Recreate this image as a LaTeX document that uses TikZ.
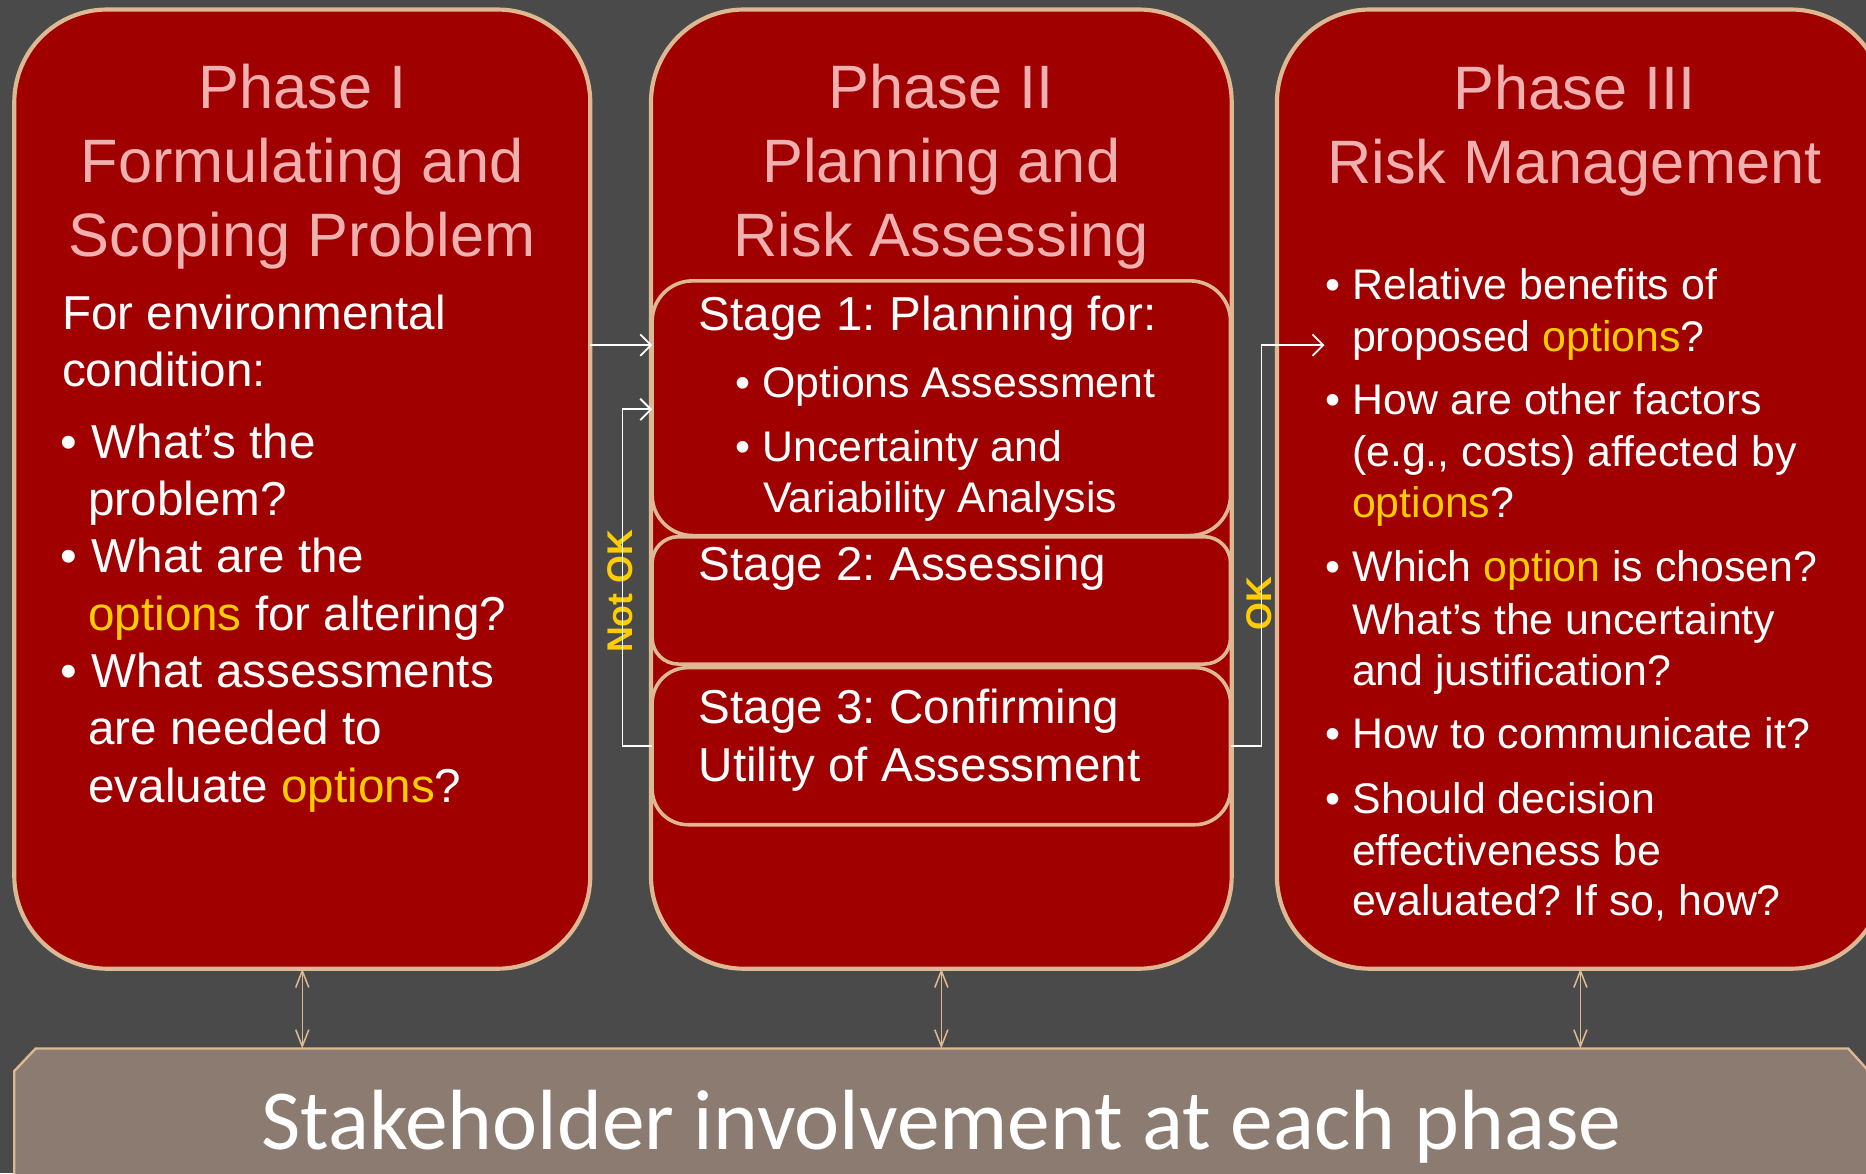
\documentclass[tikz,border=0pt]{standalone}
\usepackage{fontspec}
\setmainfont{Liberation Sans}
\newfontfamily\bandfont{Carlito}
\usetikzlibrary{arrows.meta}
\definecolor{bgc}{RGB}{74,74,74}
\definecolor{boxred}{RGB}{160,0,0}
\definecolor{tanc}{RGB}{221,184,146}
\definecolor{pinkc}{RGB}{240,176,176}
\definecolor{yel}{RGB}{255,204,0}
\definecolor{bandc}{RGB}{139,123,112}
\newcommand{\opt}[1]{\textcolor{yel}{#1}}
\newcommand{\bulA}{\makebox[26pt][l]{•}}
\newcommand{\bulB}{\makebox[22.5pt][l]{•}}
\frenchspacing
\begin{document}
\begin{tikzpicture}[x=1pt,y=-1pt,
  phase/.style={draw=tanc, line width=3.5pt, fill=boxred, rounded corners=78pt, anchor=north west, inner sep=0, outer sep=0},
  stagebox/.style={draw=tanc, line width=3pt, fill=boxred, anchor=north west, inner sep=0, outer sep=0},
  ttl/.style={text=pinkc, font=\fontsize{51.5}{62}\selectfont, anchor=base, inner sep=0},
  bodyA/.style={text=white, font=\fontsize{40}{48}\selectfont, anchor=base west, inner sep=0},
  bodyB/.style={text=white, font=\fontsize{36}{43}\selectfont, anchor=base west, inner sep=0},
  wline/.style={draw=white, line width=1.5pt},
  warrow/.style={wline, -{Straight Barb[length=9pt,width=18pt,line width=1.5pt]}},
  tanarrow/.style={draw=tanc, line width=1.3pt, {Straight Barb[length=14pt,width=11pt]}-{Straight Barb[length=14pt,width=11pt]}},
  vlabel/.style={rotate=90, text=yel, font=\bfseries\fontsize{30}{36}\selectfont, inner sep=0}
]
\useasboundingbox (0,0) rectangle (1568,986);
\clip (0,0) rectangle (1568,986);
\fill[bgc] (0,0) rectangle (1568,986);

% phase boxes
\node[phase, minimum width=484pt, minimum height=806pt] (p1) at (12,8) {};
\node[phase, minimum width=488pt, minimum height=806pt] (p2) at (547,8) {};
\node[phase, minimum width=510pt, minimum height=806pt] (p3) at (1073,8) {};

% stage boxes
\node[stagebox, rounded corners=34pt, minimum width=486pt, minimum height=214pt] (s1) at (548,236) {};
\node[stagebox, rounded corners=22pt, minimum width=486pt, minimum height=107pt] (s2) at (548,451) {};
\node[stagebox, rounded corners=30pt, minimum width=486pt, minimum height=132pt] (s3) at (548,561) {};

% band
\fill[bandc] (12,1000) -- (12,900) -- (30,881) -- (1553,881) -- (1572,902) -- (1572,1000) -- cycle;
\draw[tanc, line width=2pt] (12,1000) -- (12,900) -- (30,881) -- (1553,881) -- (1572,902);
\coordinate (bandtop) at (0,881);
\node[text=white, font=\bandfont\fontsize{71.8}{86}\selectfont, anchor=base, inner sep=0] (band) at (791,966) {Stakeholder involvement at each phase};

% Phase I text
\node[ttl] (t1a) at (254,91) {Phase I};
\node[ttl] (t1b) at (254,153.5) {Formulating and};
\node[ttl] (t1c) at (254,215.7) {Scoping Problem};
\node[bodyA] (a1) at (52,277) {For environmental};
\node[bodyA] (a2) at (52,325) {condition:};
\node[bodyA] (a3) at (51,385) {\bulA What’s the};
\node[bodyA] (a4) at (74,433) {problem?};
\node[bodyA] (a5) at (51,481) {\bulA What are the};
\node[bodyA] (a6) at (74,530) {\opt{options} for altering?};
\node[bodyA] (a7) at (51,578) {\bulA What assessments};
\node[bodyA] (a8) at (74,626) {are needed to};
\node[bodyA] (a9) at (74,674) {evaluate \opt{options}?};

% Phase II text
\node[ttl] (t2a) at (791,91) {Phase II};
\node[ttl] (t2b) at (791,153.5) {Planning and};
\node[ttl] (t2c) at (791,215.7) {Risk Assessing};
\node[bodyA] (b1) at (587,277.5) {Stage 1: Planning for:};
\node[bodyB] (b2) at (618,333.6) {\bulB Options Assessment};
\node[bodyB] (b3) at (618,388) {\bulB Uncertainty and};
\node[bodyB] (b4) at (641,431) {Variability Analysis};
\node[bodyA] (b5) at (587,488) {Stage 2: Assessing};
\node[bodyA] (b6) at (587,608) {Stage 3: Confirming};
\node[bodyA] (b7) at (587,656.5) {Utility of Assessment};

% Phase III text
\node[ttl] (t3a) at (1323,92.4) {Phase III};
\node[ttl] (t3b) at (1323,154) {Risk Management};
\node[bodyB] (c1) at (1114,252) {\bulB Relative benefits of};
\node[bodyB] (c2) at (1136,295.5) {proposed \opt{options}?};
\node[bodyB] (c3) at (1114,348.7) {\bulB How are other factors};
\node[bodyB] (c4) at (1136,392) {(e.g., costs) affected by};
\node[bodyB] (c5) at (1136,434.7) {\opt{options}?};
\node[bodyB] (c6) at (1114,488.8) {\bulB Which \opt{option} is chosen?};
\node[bodyB] (c7) at (1136,532.8) {What’s the uncertainty};
\node[bodyB] (c8) at (1136,575.6) {and justification?};
\node[bodyB] (c9) at (1114,628.8) {\bulB How to communicate it?};
\node[bodyB] (c10) at (1114,683.5) {\bulB Should decision};
\node[bodyB] (c11) at (1136,727) {effectiveness be};
\node[bodyB] (c12) at (1136,769) {evaluated? If so, how?};

% labels
\node[vlabel] (notok) at (521,497) {Not OK};
\node[vlabel] (ok) at (1058,507) {OK};

% connectors
\draw[warrow] (p1.east |- 0,290) -- (s1.west |- 0,290);
\draw[warrow] (s3.west) -- ++(-25,0) |- (s1.west |- 0,344);
\coordinate (okend) at (1113,290);
\draw[warrow] (s3.east) -- ++(26,0) |- (okend);
\draw[tanarrow] (p1.south) -- (p1.south |- bandtop);
\draw[tanarrow] (p2.south) -- (p2.south |- bandtop);
\draw[tanarrow] (p3.south) -- (p3.south |- bandtop);
\end{tikzpicture}
\end{document}
